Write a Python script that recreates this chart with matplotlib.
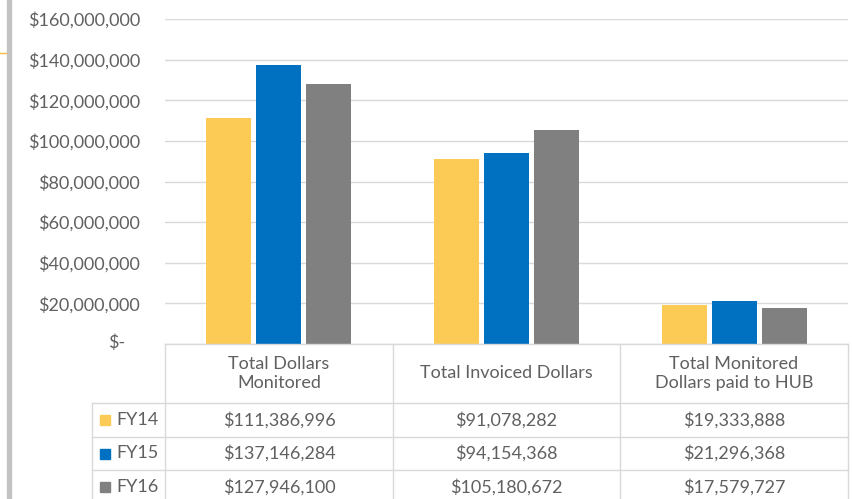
import numpy as np
import matplotlib
matplotlib.use("Agg")
import matplotlib.pyplot as plt
from matplotlib.patches import Rectangle
from matplotlib.lines import Line2D

plt.rcParams['font.family'] = ['Lato', 'DejaVu Sans']

categories = ["Total Dollars\nMonitored", "Total Invoiced Dollars",
              "Total Monitored\nDollars paid to HUB"]
series = ["FY14", "FY15", "FY16"]
fy14 = [111386996, 91078282, 19333888]
fy15 = [137146284, 94154368, 21296368]
fy16 = [127946100, 105180672, 17579727]
colors = ["#FCCB55", "#0070C0", "#808080"]
yticks = [0, 20e6, 40e6, 60e6, 80e6, 100e6, 120e6, 140e6, 160e6]

W, H = 852, 499
fig = plt.figure(figsize=(W / 100, H / 100), dpi=100)
txt = "#606060"
grid = "#d9d9d9"
fs = 13


def fx(px):
    return px / W


def fy(py):
    return 1 - py / H


# plot area
x0, x1 = 165, 848
ytop, ybot = 19, 344
ax = fig.add_axes([fx(x0), fy(ybot), fx(x1) - fx(x0), fy(ytop) - fy(ybot)])
ax.set_xlim(0, 3)
ax.set_ylim(0, 160e6)
for s in ax.spines.values():
    s.set_visible(False)
ax.set_yticks(yticks)
# zero label is placed by hand below (accounting style "$-")
labels = [""] + ["${:,.0f}".format(v) for v in yticks[1:]]
ax.set_yticklabels(labels, color=txt, fontsize=fs)
ax.tick_params(axis="y", length=0, pad=18)
ax.set_xticks([])
ax.grid(axis="y", color=grid, lw=1)
ax.set_axisbelow(True)

bw = 0.198
gap = 0.022
xs = np.arange(3) + 0.5
data = [fy14, fy15, fy16]
for i, vals in enumerate(data):
    off = (i - 1) * (bw + gap)
    ax.bar(xs + off, vals, width=bw, color=colors[i], zorder=2)

# data table
tb = fig.add_axes([0, 0, 1, 1], zorder=3)
tb.set_xlim(0, W)
tb.set_ylim(H, 0)
tb.axis("off")
tb.patch.set_alpha(0)

tb.text(125, 343, "$-", ha="right", va="center", color=txt, fontsize=fs)

lc = "#d9d9d9"
cols = [165, 393, 620, 848]
rows = [344, 403, 437, 470, 504]
left = 92
# horizontal lines
tb.add_line(Line2D([cols[0], cols[-1]], [rows[0], rows[0]], color=lc, lw=1))
for r in rows[1:]:
    tb.add_line(Line2D([left, cols[-1]], [r, r], color=lc, lw=1))
for c in cols:
    tb.add_line(Line2D([c, c], [rows[0], rows[-1]], color=lc, lw=1))
tb.add_line(Line2D([left, left], [rows[1], rows[-1]], color=lc, lw=1))

for j, cat in enumerate(categories):
    cx = (cols[j] + cols[j + 1]) / 2
    tb.text(cx, (rows[0] + rows[1]) / 2, cat, ha="center", va="center",
            color=txt, fontsize=fs, linespacing=1.3)

for i, name in enumerate(series):
    cy = (rows[i + 1] + rows[i + 2]) / 2
    tb.add_patch(Rectangle((100, cy - 5), 10, 10, color=colors[i]))
    tb.text(116, cy, name, ha="left", va="center", color=txt, fontsize=fs)
    for j in range(3):
        cx = (cols[j] + cols[j + 1]) / 2
        tb.text(cx, cy, "${:,.0f}".format(data[i][j]), ha="center",
                va="center", color=txt, fontsize=fs)

# screenshot edge
tb.add_patch(Rectangle((7, 0), 4, H, color="#c3c3c3"))
tb.add_line(Line2D([0, 6], [53, 53], color="#f5b942", lw=1))

fig.savefig("out.png", dpi=100)
